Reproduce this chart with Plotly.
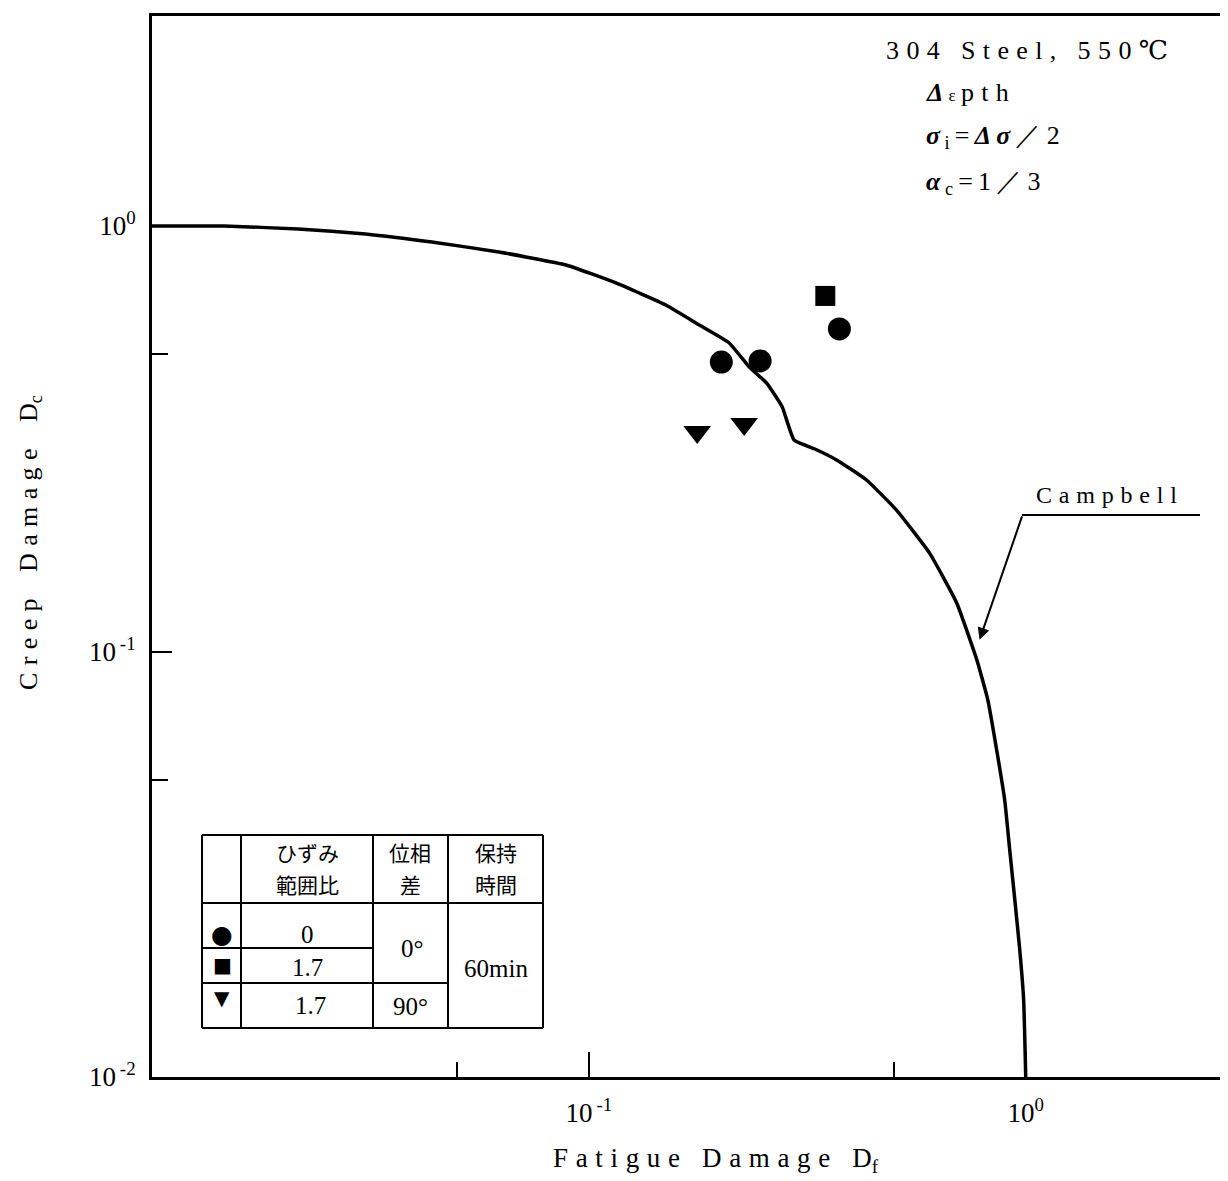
import math
import plotly.graph_objects as go

# ---------------- data ----------------
campbell_df = [0.0100, 0.0146, 0.0216, 0.0308, 0.0437, 0.0622, 0.0886, 0.1153, 0.150, 0.179,
               0.2095, 0.233, 0.255, 0.277, 0.295, 0.332, 0.369, 0.432, 0.506, 0.602,
               0.695, 0.773, 0.819, 0.858, 0.895, 0.919, 0.944, 0.969, 0.989, 1.0]
campbell_dc = [1.0, 1.0, 0.984, 0.958, 0.917, 0.869, 0.810, 0.735, 0.652, 0.585,
               0.531, 0.466, 0.428, 0.376, 0.314, 0.298, 0.282, 0.253, 0.215, 0.1705,
               0.130, 0.0955, 0.0769, 0.0587, 0.0448, 0.0342, 0.0261, 0.0199, 0.0152, 0.01]

circle_df = [0.201, 0.2466, 0.3745]      # strain range ratio 0, phase 0 deg
circle_dc = [0.479, 0.482, 0.573]
square_df = [0.3477]                     # strain range ratio 1.7, phase 0 deg
square_dc = [0.685]
tri_df = [0.177, 0.2267]                 # strain range ratio 1.7, phase 90 deg
tri_dc = [0.328, 0.3424]

campbell_arrow_df, campbell_arrow_dc = 0.784, 0.1065   # point the "Campbell" arrow touches

x_tickvals = [0.1, 1]
x_ticktext = ["10<sup>\u2009-1</sup>", "10<sup>0</sup>"]
y_tickvals = [0.01, 0.1, 1]
y_ticktext = ["10<sup>\u2009-2</sup>", "10<sup>\u2009-1</sup>", "10<sup>0</sup>"]
minor_vals = [0.05, 0.5]

# ---------------- layout helpers ----------------
OFF = 8                      # page body margin
W, H = 1228 - OFF, 1181 - OFF
L, R, T = 152 - OFF, 0, 16 - OFF
BOTTOM = 1077 - OFF
B = H - BOTTOM
PW, PH = W - L - R, H - T - B


def px(x):
    return (x - OFF - L) / PW


def py(y):
    return (BOTTOM - (y - OFF)) / PH


SERIF = "Liberation Serif, DejaVu Serif, serif"
JP = "Noto Sans CJK JP"
NB = "\u00a0"


def spread(s, gap=" ", word=NB + NB):
    out = []
    for ch in s:
        out.append(word if ch == " " else ch)
    return gap.join(out)


fig = go.Figure()

fig.add_trace(go.Scatter(x=campbell_df, y=campbell_dc, mode="lines",
                         line=dict(color="black", width=3.5, shape="spline", smoothing=0.4),
                         showlegend=False, hoverinfo="skip"))
fig.add_trace(go.Scatter(x=circle_df, y=circle_dc, mode="markers",
                         marker=dict(symbol="circle", size=23, color="black"), showlegend=False))
fig.add_trace(go.Scatter(x=square_df, y=square_dc, mode="markers",
                         marker=dict(symbol="square", size=20, color="black"), showlegend=False))
fig.add_trace(go.Scatter(x=tri_df, y=tri_dc, mode="markers",
                         marker=dict(symbol="triangle-down", size=24, color="black"), showlegend=False))

ann = []


def text(x, y, s, size=22, font=SERIF, xanchor="center", yanchor="middle", angle=0):
    ann.append(dict(x=px(x), y=py(y), xref="paper", yref="paper", text=s, showarrow=False,
                    xanchor=xanchor, yanchor=yanchor, textangle=angle,
                    font=dict(family=font, size=size, color="black")))


G = "\u2009\u200a"
# top-right info
text(884, 50, spread("304 Steel, 550", G, NB) + G + "℃", size=26, xanchor="left")
text(924, 93, "<b><i>Δ</i></b>\u2009<span style='font-size:17px'>ε</span>\u2009" + spread("pth", G),
     size=26, xanchor="left")
text(924, 137, "<b><i>σ</i></b><sub> i</sub>\u2009=\u2009<b><i>Δ\u2009σ</i></b>\u2009／\u20092",
     size=26, xanchor="left")
text(924, 183, "<b><i>α</i></b><sub> c</sub>\u2009=\u20091\u2009／\u20093", size=26, xanchor="left")

# axis titles
text(716, 1160, spread("Fatigue Damage D", G, NB) + "<sub>f</sub>", size=27)
text(30, 543, spread("Creep Damage D", G, NB + "\u2009") + "<sub>c</sub>", size=26, angle=-90)

# Campbell label
text(1106, 495, spread("Campbell", G), size=24)

# legend table
text(222, 934, "●", size=25, font="DejaVu Sans")
text(222, 965, "■", size=20, font="DejaVu Sans")
text(222, 998, "▼", size=20, font="DejaVu Sans")
text(307, 852, "ひずみ", size=21, font=JP)
text(307, 884, "範囲比", size=21, font=JP)
text(410, 852, "位相", size=21, font=JP)
text(410, 884, "差", size=21, font=JP)
text(496, 852, "保持", size=21, font=JP)
text(496, 884, "時間", size=21, font=JP)
text(307, 934, "0", size=25)
text(307, 967, "1.7", size=25)
text(310, 1005, "1.7", size=25)
text(412, 948, "0°", size=25)
text(410, 1006, "90°", size=25)
text(496, 968, "60min", size=25)

# Campbell arrow (head at the curve, tail at the leader corner); log axes take log10 positions
ann.append(dict(x=math.log10(campbell_arrow_df), y=math.log10(campbell_arrow_dc),
                xref="x", yref="y", ax=43, ay=-125, axref="pixel", ayref="pixel",
                text="", showarrow=True, arrowhead=2, arrowsize=1.2,
                arrowwidth=2, arrowcolor="black", standoff=0, startstandoff=0))

shapes = []


def line(x0, y0, x1, y1, w=2):
    shapes.append(dict(type="line", xref="paper", yref="paper", x0=px(x0), y0=py(y0),
                       x1=px(x1), y1=py(y1), line=dict(color="black", width=w)))


line(1022, 515, 1200, 515, 1.8)
# table frame
line(202, 835, 543, 835)
line(202, 1028, 543, 1028)
line(202, 835, 202, 1028)
line(543, 835, 543, 1028)
line(241, 835, 241, 1028)
line(373, 835, 373, 1028)
line(448, 835, 448, 1028)
line(202, 903, 543, 903)
line(202, 948, 373, 948)
line(202, 983, 448, 983)

fig.update_layout(
    width=W, height=H,
    margin=dict(l=L, r=R, t=T, b=B),
    paper_bgcolor="white", plot_bgcolor="white",
    annotations=ann, shapes=shapes, showlegend=False,
    font=dict(family=SERIF, size=22, color="black"),
)

fig.update_xaxes(type="log", range=[-2, 0.463], showgrid=False, zeroline=False,
                 showline=True, linecolor="black", linewidth=3, mirror=True,
                 tickmode="array", tickvals=x_tickvals, ticktext=x_ticktext,
                 ticks="inside", ticklen=25, tickwidth=2, tickcolor="black",
                 ticklabelstandoff=10,
                 tickfont=dict(family=SERIF, size=27, color="black"),
                 minor=dict(tickmode="array", tickvals=minor_vals, ticks="inside",
                            ticklen=15, tickwidth=2, tickcolor="black", showgrid=False))
fig.update_yaxes(type="log", range=[-2, 0.4936], showgrid=False, zeroline=False,
                 showline=True, linecolor="black", linewidth=3, mirror=False,
                 tickmode="array", tickvals=y_tickvals, ticktext=y_ticktext,
                 ticks="inside", ticklen=20, tickwidth=2, tickcolor="black",
                 ticklabelstandoff=8,
                 tickfont=dict(family=SERIF, size=27, color="black"),
                 minor=dict(tickmode="array", tickvals=minor_vals, ticks="inside",
                            ticklen=16, tickwidth=2, tickcolor="black", showgrid=False))

fig.write_html("out.html")
